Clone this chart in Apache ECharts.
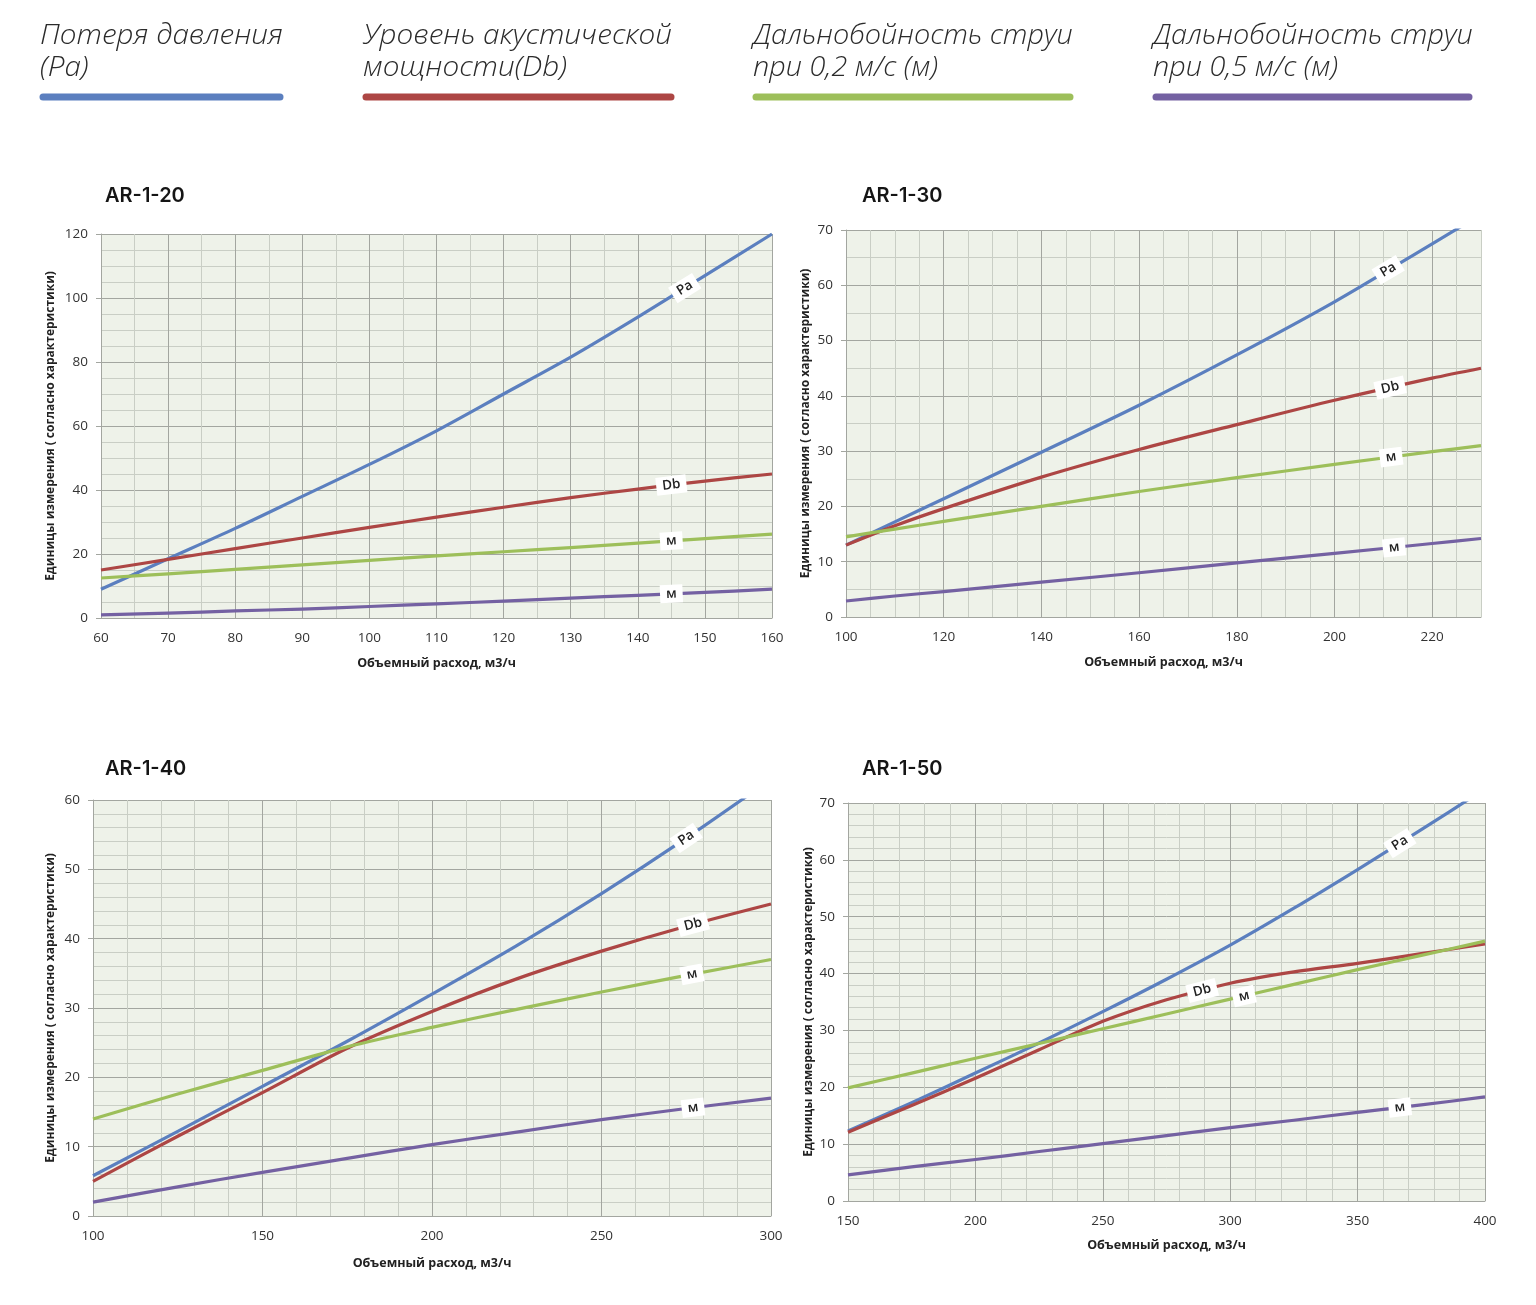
<!DOCTYPE html>
<html><head><meta charset="utf-8">
<script src="https://cdn.jsdelivr.net/npm/echarts@6/dist/echarts.min.js"></script>
<style>html,body{margin:0;padding:0;background:#fff}#c{width:1536px;height:1305px}</style>
</head><body><div id="c"></div>
<script>
// ---- legend / series meta ----
const legendNames = ['Потеря давления\n(Pa)', 'Уровень акустической\nмощности(Db)', 'Дальнобойность струи\nпри 0,2 м/с (м)', 'Дальнобойность струи\nпри 0,5 м/с (м)'];
const seriesTags = ['Pa', 'Db', 'м', 'м'];
const seriesColors = ['#5b7fbf', '#ad4644', '#9dbf5a', '#7461a2'];
const xAxisName = 'Объемный расход, м3/ч';
const yAxisName = 'Единицы измерения ( согласно характеристики)';

// ---- AR-1-20 ----
const x20 = [60, 70, 80, 90, 100, 110, 120, 130, 140, 150, 160];
const pa20 = [9, 18.5, 28, 38, 48, 58.5, 70, 81.5, 94, 107, 120];
const db20 = [15, 18.3, 21.7, 25, 28.3, 31.5, 34.6, 37.6, 40.3, 42.8, 45];
const m02_20 = [12.5, 13.8, 15.2, 16.6, 18, 19.4, 20.7, 22, 23.4, 24.8, 26.2];
const m05_20 = [1, 1.5, 2.2, 2.8, 3.6, 4.4, 5.3, 6.2, 7.1, 8, 9];
const tagX20 = [147, 145, 145, 145];

// ---- AR-1-30 ----
const x30 = [100, 110, 120, 140, 160, 180, 200, 220, 230];
const pa30 = [13, 17.2, 21.4, 29.8, 38.3, 47.4, 57, 67.5, 72.8];
const db30 = [13, 16.5, 19.6, 25.3, 30.3, 34.8, 39.2, 43.2, 45];
const m02_30 = [14.5, 15.9, 17.3, 20, 22.7, 25.2, 27.6, 29.9, 31];
const m05_30 = [2.9, 3.8, 4.6, 6.3, 8, 9.8, 11.5, 13.3, 14.2];
const tagX30 = [211, 211.4, 211.6, 212.2];

// ---- AR-1-40 ----
const x40 = [100, 125, 150, 175, 200, 225, 250, 275, 300];
const pa40 = [5.8, 12.2, 18.7, 25.2, 32, 39, 46.5, 54.5, 63];
const db40 = [5, 11.5, 17.8, 24.2, 29.5, 34.2, 38.2, 41.8, 45];
const m02_40 = [14, 17.6, 21, 24.4, 27.2, 29.8, 32.3, 34.7, 37];
const m05_40 = [2, 4.2, 6.3, 8.3, 10.3, 12.1, 13.9, 15.5, 17];
const tagX40 = [275, 277, 276.7, 277];

// ---- AR-1-50 ----
const x50 = [150, 175, 200, 225, 250, 275, 300, 325, 350, 375, 400];
const pa50 = [12.3, 17.3, 22.5, 27.8, 33.3, 39, 45, 51.5, 58.3, 65.3, 72.5];
const db50 = [12.1, 16.8, 21.6, 26.6, 31.6, 35.4, 38.3, 40.3, 41.8, 43.5, 45.2];
const m02_50 = [19.9, 22.5, 25.1, 27.7, 30.3, 32.9, 35.5, 38.1, 40.7, 43.2, 45.7];
const m05_50 = [4.6, 6, 7.3, 8.7, 10.1, 11.5, 12.9, 14.2, 15.6, 16.9, 18.3];
const tagX50 = [366.6, 289, 305.4, 366.6];

const panels = [
  { title: 'AR-1-20', x: x20, ys: [pa20, db20, m02_20, m05_20], tagX: tagX20,
    xr: { min: 60, max: 160, major: 10, minor: 5 }, yr: { min: 0, max: 120, major: 20, minor: 5 } },
  { title: 'AR-1-30', x: x30, ys: [pa30, db30, m02_30, m05_30], tagX: tagX30,
    xr: { min: 100, max: 230, major: 20, minor: 5 }, yr: { min: 0, max: 70, major: 10, minor: 5 } },
  { title: 'AR-1-40', x: x40, ys: [pa40, db40, m02_40, m05_40], tagX: tagX40,
    xr: { min: 100, max: 300, major: 50, minor: 10 }, yr: { min: 0, max: 60, major: 10, minor: 2 } },
  { title: 'AR-1-50', x: x50, ys: [pa50, db50, m02_50, m05_50], tagX: tagX50,
    xr: { min: 150, max: 400, major: 50, minor: 10 }, yr: { min: 0, max: 70, major: 10, minor: 2 } }
];

// ---- layout (styles) ----
const layout = [
  { grid: { left: 101, top: 234, width: 671, height: 384 }, title: [100, 181], yGap: 44, xGap: 39 },
  { grid: { left: 846, top: 230, width: 635, height: 387 }, title: [857, 181], yGap: 34, xGap: 39 },
  { grid: { left: 93, top: 800, width: 678, height: 416 }, title: [100, 754], yGap: 36, xGap: 41 },
  { grid: { left: 848, top: 803, width: 637, height: 398 }, title: [857, 754], yGap: 33, xGap: 38 }
];
const DARK = '#a3a6a0', LIGHT = '#c9cec5', BG = '#eef2e9';
const legendLayout = [
  { tx: 40, x1: 40, x2: 283, sx: 1.06 }, { tx: 363, x1: 363, x2: 674, sx: 1.06 },
  { tx: 753, x1: 753, x2: 1073, sx: 1.03 }, { tx: 1153, x1: 1153, x2: 1472, sx: 1.03 }
];

function interp(xs, ys, x) {
  for (let i = 0; i < xs.length - 1; i++) {
    if (x >= xs[i] && x <= xs[i + 1]) {
      const t = (x - xs[i]) / (xs[i + 1] - xs[i]);
      return ys[i] + t * (ys[i + 1] - ys[i]);
    }
  }
  return ys[ys.length - 1];
}

const option = {
  animation: false,
  backgroundColor: '#fff',
  title: [], grid: [], xAxis: [], yAxis: [], series: [],
  graphic: []
};

panels.forEach((p, k) => {
  const L = layout[k];
  option.title.push({ text: p.title, left: L.title[0], top: L.title[1],
    textStyle: { fontFamily: 'Inter', fontWeight: 600, fontSize: 20, color: '#151515' } });
  option.grid.push(Object.assign({ show: true, backgroundColor: BG, borderWidth: 0, containLabel: false, outerBoundsMode: 'none' }, L.grid));
  const steps = Math.round(p.xr.major / p.xr.minor);
  const xColors = [DARK]; for (let i = 1; i < steps; i++) xColors.push(LIGHT);
  option.xAxis.push({
    type: 'value', gridIndex: k, min: p.xr.min, max: p.xr.max, interval: p.xr.minor,
    name: xAxisName, nameLocation: 'middle', nameGap: L.xGap, nameMoveOverlap: false,
    nameTextStyle: { fontFamily: 'Open Sans', fontWeight: 'bold', fontSize: 12.5, color: '#222' },
    axisLine: { show: true, lineStyle: { color: DARK, width: 1 } },
    axisTick: { show: false },
    axisLabel: { margin: 13, fontFamily: 'Open Sans', fontSize: 13.5, color: '#333',
      formatter: v => (Math.abs((v - p.xr.min) / p.xr.major - Math.round((v - p.xr.min) / p.xr.major)) < 1e-6) ? String(v) : '' },
    splitLine: { show: true, lineStyle: { color: xColors, width: 1 } }
  });
  option.yAxis.push({
    type: 'value', gridIndex: k, min: p.yr.min, max: p.yr.max, interval: p.yr.major,
    name: yAxisName, nameLocation: 'middle', nameGap: L.yGap, nameMoveOverlap: false,
    nameTextStyle: { fontFamily: 'Open Sans', fontWeight: 'bold', fontSize: 12, color: '#222' },
    axisLine: { show: true, lineStyle: { color: DARK, width: 1 } },
    axisTick: { show: true, length: 5, lineStyle: { color: DARK } },
    minorTick: { show: false, splitNumber: Math.round(p.yr.major / p.yr.minor) },
    minorSplitLine: { show: true, lineStyle: { color: LIGHT, width: 1 } },
    axisLabel: { margin: 13, fontFamily: 'Open Sans', fontSize: 13.5, color: '#333' },
    splitLine: { show: true, lineStyle: { color: DARK, width: 1 } }
  });
  const d = 0.012 * (p.xr.max - p.xr.min);
  p.ys.forEach((ys, s) => {
    const tx = p.tagX[s];
    option.series.push({
      type: 'line', name: seriesTags[s], xAxisIndex: k, yAxisIndex: k,
      data: p.x.map((xv, i) => [xv, ys[i]]),
      smooth: 0.3, symbol: 'none', clip: true,
      lineStyle: { color: seriesColors[s], width: 3.2, join: 'round' },
      emphasis: { disabled: true }, silent: true,
      markLine: {
        silent: true, symbol: ['none', 'none'], animation: false,
        lineStyle: { color: 'rgba(0,0,0,0)', width: 0, opacity: 1 },
        label: { show: true, position: 'insideMiddle', distance: 0, formatter: seriesTags[s], opacity: 1,
          fontFamily: 'Open Sans', fontSize: 13.5, fontWeight: 600, color: '#222',
          backgroundColor: '#ffffff', padding: [2, 6] },
        data: [[{ coord: [tx - d, interp(p.x, ys, tx - d)] }, { coord: [tx + d, interp(p.x, ys, tx + d)] }]]
      }
    });
  });
});

legendNames.forEach((n, i) => {
  const g = legendLayout[i];
  option.graphic.push({
    type: 'text', x: g.tx, y: 20, scaleX: g.sx, silent: true,
    style: { text: n, font: 'italic 300 28px "Open Sans"', fill: '#2b2b2b', lineHeight: 32, align: 'left', verticalAlign: 'top' }
  });
  option.graphic.push({
    type: 'line', silent: true,
    shape: { x1: g.x1 + 3, y1: 97, x2: g.x2 - 3, y2: 97 },
    style: { stroke: seriesColors[i], lineWidth: 7, lineCap: 'round' }
  });
});

const chart = echarts.init(document.getElementById('c'), null, { renderer: 'canvas' });
chart.setOption(option);
</script>
</body></html>
